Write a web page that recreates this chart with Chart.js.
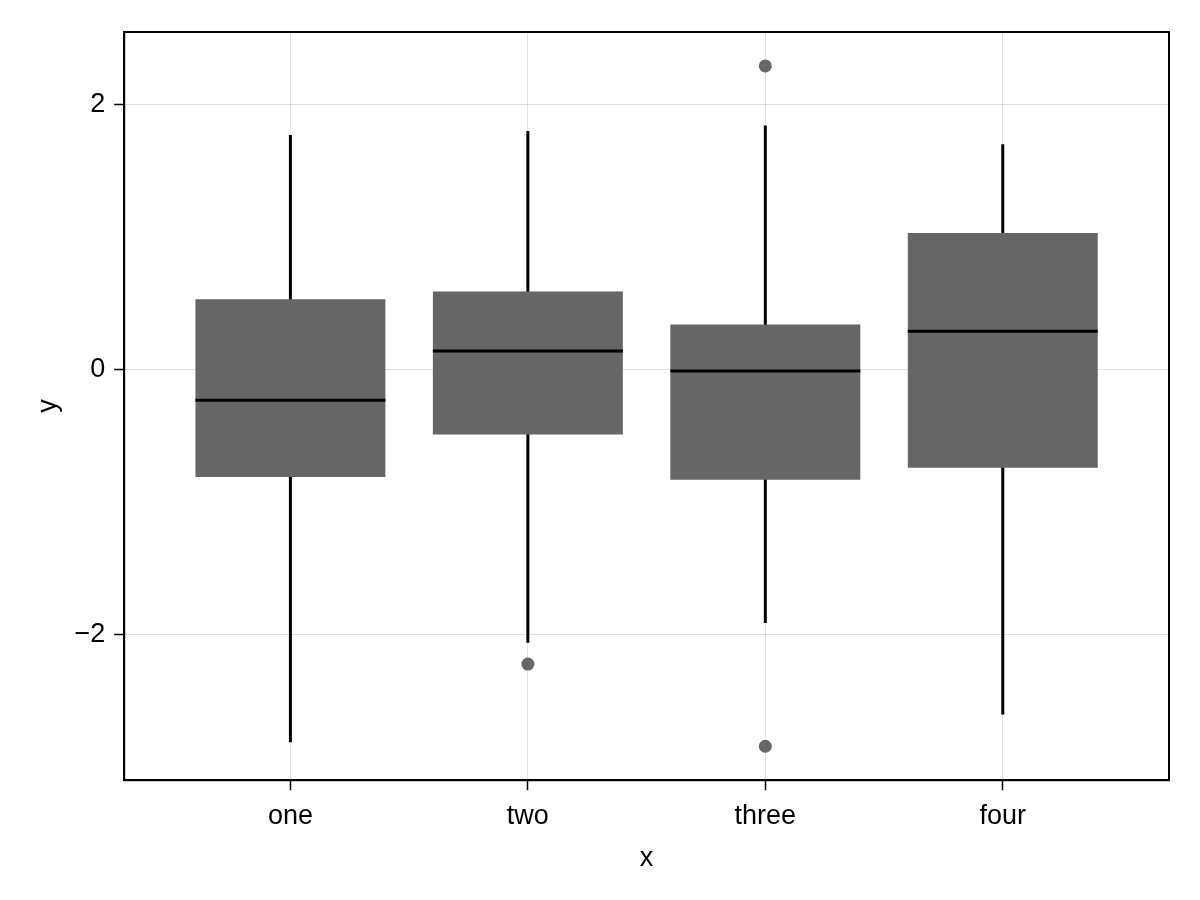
<!DOCTYPE html>
<html>
<head>
<meta charset="utf-8">
<script src="https://cdn.jsdelivr.net/npm/chart.js@4.4.1/dist/chart.umd.min.js"></script>
<style>
  html, body { margin: 0; padding: 0; background: #fff; }
  #wrap { width: 1200px; height: 900px; }
</style>
</head>
<body>
<div id="wrap"><canvas id="boxChart"></canvas></div>
<script>
// data
const categories = ['one', 'two', 'three', 'four'];
const whiskerLow = [-2.81, -2.06, -1.91, -2.60];
const q1 = [-0.81, -0.49, -0.83, -0.74];
const median = [-0.23, 0.14, -0.01, 0.29];
const q3 = [0.53, 0.59, 0.34, 1.03];
const whiskerHigh = [1.77, 1.80, 1.84, 1.70];
const outliers = [[], [-2.22], [2.29, -2.84], []];
const yTicks = [-2, 0, 2];

const boxColor = '#666666';
const halfBox = 0.4;
const fontFamily = 'Liberation Sans';

// whiskers: one segment per box, broken by a null point
const whiskerPts = [];
categories.forEach((c, i) => {
    whiskerPts.push({ x: i, y: whiskerLow[i] }, { x: i, y: whiskerHigh[i] }, { x: i, y: null });
});
const medianPts = [];
categories.forEach((c, i) => {
    medianPts.push({ x: i - halfBox, y: median[i] }, { x: i + halfBox, y: median[i] }, { x: i, y: null });
});
const outlierPts = [];
outliers.forEach((arr, i) => arr.forEach(v => outlierPts.push({ x: i, y: v })));

// draw the full frame around the plot area
const framePlugin = {
    id: 'frame',
    afterDraw(chart) {
        const a = chart.chartArea, ctx = chart.ctx;
        ctx.save();
        ctx.strokeStyle = '#000';
        ctx.lineWidth = 2;
        ctx.strokeRect(a.left, a.top, a.right - a.left, a.bottom - a.top);
        ctx.restore();
    }
};

const ctx = document.getElementById('boxChart').getContext('2d');
new Chart(ctx, {
    type: 'bar',
    data: {
        datasets: [
            {
                type: 'line',
                data: outlierPts,
                showLine: false,
                pointRadius: 6.5,
                pointBackgroundColor: boxColor,
                pointBorderWidth: 0,
                order: 0
            },
            {
                type: 'line',
                data: medianPts,
                borderColor: '#000',
                borderWidth: 3,
                pointRadius: 0,
                spanGaps: false,
                order: 1
            },
            {
                type: 'bar',
                data: categories.map((c, i) => ({ x: i, y: [q1[i], q3[i]] })),
                backgroundColor: boxColor,
                borderWidth: 0,
                categoryPercentage: 0.8,
                barPercentage: 1.0,
                order: 2
            },
            {
                type: 'line',
                data: whiskerPts,
                borderColor: '#000',
                borderWidth: 3,
                pointRadius: 0,
                spanGaps: false,
                order: 3
            }
        ]
    },
    options: {
        responsive: true,
        maintainAspectRatio: false,
        animation: false,
        layout: { padding: { top: 32, right: 31, left: 32, bottom: 25 } },
        plugins: { legend: { display: false }, tooltip: { enabled: false } },
        scales: {
            x: {
                type: 'linear',
                offset: false,
                min: -0.7,
                max: 3.7,
                afterBuildTicks: scale => { scale.ticks = categories.map((c, i) => ({ value: i })); },
                ticks: {
                    callback: v => categories[v],
                    color: '#000',
                    font: { family: fontFamily, size: 27 },
                    padding: 10,
                    maxRotation: 0,
                    autoSkip: false
                },
                grid: { offset: false, color: 'rgba(0,0,0,0.12)', tickColor: '#000', tickLength: 10, tickWidth: 1.5 },
                border: { color: '#000', width: 2 },
                title: { display: true, text: 'x', color: '#000', font: { family: fontFamily, size: 27 }, padding: { top: 0, bottom: 0 } }
            },
            y: {
                min: -3.096,
                max: 2.546,
                afterBuildTicks: scale => { scale.ticks = yTicks.map(v => ({ value: v })); },
                ticks: {
                    callback: v => (v < 0 ? '\u2212' + Math.abs(v) : String(v)),
                    color: '#000',
                    font: { family: fontFamily, size: 27 },
                    padding: 9
                },
                grid: { color: 'rgba(0,0,0,0.12)', tickColor: '#000', tickLength: 10, tickWidth: 1.5 },
                border: { color: '#000', width: 2 },
                title: { display: true, text: 'y', color: '#000', font: { family: fontFamily, size: 27 }, padding: { top: 0, bottom: 1 } }
            }
        }
    },
    plugins: [framePlugin]
});
</script>
</body>
</html>
